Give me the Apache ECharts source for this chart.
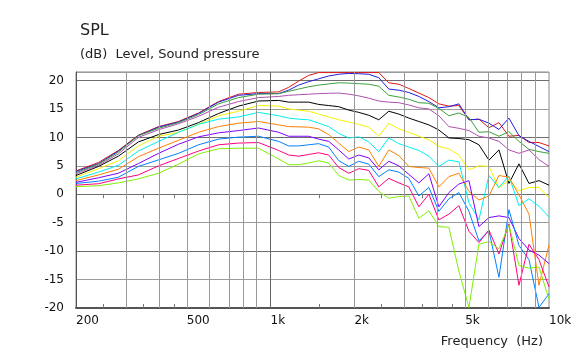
<!DOCTYPE html>
<html>
<head>
<meta charset="utf-8">
<script src="https://cdn.jsdelivr.net/npm/echarts@6/dist/echarts.min.js"></script>
<style>
html, body { margin: 0; padding: 0; background: #fff; }
#spl-chart { width: 578px; height: 351px; }
</style>
</head>
<body>
<div id="spl-chart"></div>
<script>
// frequency points (Hz), shared by all curves
var freqs = [200, 241, 284, 335, 396, 467, 551, 650, 767, 905,
	1069, 1161, 1261, 1370, 1488, 1617, 1757, 1909, 2073, 2252,
	2447, 2658, 2888, 3137, 3408, 3702, 4022, 4369, 4746, 5156,
	5601, 6085, 6610, 7180, 7800, 8474, 9205, 10000];

// SPL curves (dB), top to bottom
var splRed = [4.1, 5.6, 7.7, 10.4, 11.9, 12.8, 14.3, 16.3, 17.6, 17.9,
	18.0, 18.8, 19.9, 20.9, 21.4, 21.4, 21.4, 21.4, 21.4, 21.4,
	21.4, 19.6, 19.35, 18.6, 17.8, 17.0, 15.9, 15.5, 15.6, 13.1,
	13.2, 11.7, 12.6, 10.2, 10.35, 9.1, 9.1, 8.5];
var splBlue = [4.0, 5.4, 7.6, 10.3, 11.8, 12.7, 14.2, 16.2, 17.4, 17.7,
	17.7, 18.3, 19.2, 19.8, 20.3, 20.8, 21.1, 21.25, 21.2, 21.1,
	20.5, 18.5, 18.3, 17.9, 17.2, 16.3, 15.2, 15.4, 15.9, 13.1,
	13.2, 12.5, 11.4, 13.4, 10.3, 9.3, 8.4, 7.5];
var splGreen = [3.8, 5.3, 7.4, 10.3, 11.6, 12.6, 14.0, 15.9, 17.0, 17.6,
	17.7, 18.1, 18.5, 18.9, 19.2, 19.4, 19.6, 19.55, 19.45, 19.35,
	19.0, 17.4, 17.1, 16.7, 16.1, 16.0, 15.1, 13.8, 14.3, 13.5,
	10.9, 11.0, 10.2, 11.0, 9.3, 7.9, 7.5, 7.2];
var splMauve = [3.6, 5.1, 7.1, 10.0, 11.35, 12.4, 13.7, 15.3, 16.3, 17.0,
	17.2, 17.4, 17.5, 17.6, 17.7, 17.75, 17.8, 17.6, 17.3, 16.9,
	16.4, 16.2, 16.1, 15.7, 15.2, 15.0, 13.8, 11.9, 11.6, 11.2,
	10.2, 9.9, 9.3, 7.8, 7.2, 7.8, 6.1, 4.9];
var splBlack = [3.3, 4.9, 6.7, 9.2, 10.5, 11.3, 12.6, 14.2, 15.5, 16.4,
	16.5, 16.2, 16.2, 16.2, 15.8, 15.6, 15.4, 14.8, 14.4, 13.9,
	13.1, 14.6, 14.1, 13.4, 12.8, 12.2, 11.3, 9.9, 9.8, 9.6,
	8.7, 6.0, 7.8, 1.9, 5.35, 1.9, 2.4, 1.6];
var splYellow = [3.0, 4.5, 5.9, 8.5, 10.2, 10.9, 12.3, 13.8, 14.6, 15.6,
	15.5, 15.0, 14.8, 14.6, 14.1, 13.6, 13.1, 12.7, 12.3, 11.8,
	10.2, 12.5, 11.5, 10.9, 10.2, 9.6, 8.4, 8.0, 6.9, 4.3,
	5.0, 4.9, 1.1, 2.5, 0.6, 1.2, 1.2, -0.6];
var splCyan = [2.7, 3.9, 5.1, 7.6, 9.3, 10.9, 12.3, 13.2, 13.6, 14.4,
	13.8, 13.4, 13.2, 13.1, 12.5, 11.9, 10.7, 9.9, 10.1, 9.2,
	7.5, 9.9, 8.9, 8.3, 7.7, 6.7, 4.9, 6.0, 5.7, -1.5,
	-4.5, 3.3, 1.2, 3.2, -2.0, -0.8, -2.1, -4.0];
var splOrange = [2.4, 3.4, 4.4, 6.6, 8.1, 9.5, 10.9, 11.9, 12.5, 12.8,
	12.2, 11.9, 11.85, 11.8, 11.5, 10.5, 9.0, 7.5, 8.3, 7.8,
	4.9, 7.8, 6.8, 4.9, 4.7, 4.6, 1.3, 3.1, 3.7, 0.5,
	-1.0, -0.3, 3.3, 3.0, -0.1, -3.5, -16.0, -8.9];
var splViolet = [2.1, 2.9, 3.7, 5.4, 7.2, 8.8, 10.1, 10.8, 11.2, 11.65,
	10.9, 10.2, 10.2, 10.2, 9.7, 9.3, 7.8, 6.2, 6.9, 6.4,
	4.3, 5.8, 5.0, 3.5, 2.0, 3.6, -2.2, 0.3, 1.8, 2.4,
	-5.7, -4.1, -3.8, -4.1, -7.8, -9.8, -10.7, -12.2];
var splAzure = [1.9, 2.3, 3.0, 4.9, 6.05, 7.2, 8.7, 9.7, 10.05, 10.2,
	9.3, 8.5, 8.5, 8.7, 8.9, 8.3, 5.9, 4.9, 5.8, 5.3,
	3.1, 4.3, 3.9, 2.8, -0.3, 1.2, -3.0, -0.8, 0.3, -3.0,
	-8.2, -6.4, -14.6, -2.7, -9.0, -11.5, -19.9, -17.5];
var splPink = [1.6, 1.85, 2.7, 3.4, 5.0, 6.3, 7.6, 8.7, 9.0, 9.1,
	7.7, 6.9, 6.7, 7.0, 7.3, 6.9, 4.7, 3.7, 4.5, 4.2,
	1.3, 2.8, 2.0, 1.3, -2.2, 0.0, -4.5, -3.5, -2.0, -6.5,
	-8.5, -6.3, -10.5, -5.2, -16.0, -8.8, -11.5, -16.3];
var splLime = [1.35, 1.5, 2.0, 2.7, 3.7, 5.3, 7.1, 8.0, 8.1, 8.1,
	6.2, 5.2, 5.2, 5.5, 5.9, 5.5, 3.3, 2.5, 2.6, 2.5,
	0.5, -0.7, -0.4, -0.3, -4.2, -2.9, -5.7, -5.8, -13.5, -19.9,
	-8.8, -8.3, -9.6, -5.4, -12.5, -13.0, -12.8, -18.5];

// axis marks (Hz)
var labelFreqs = [200, 500, 1000, 2000, 5000, 10000];
var gridFreqs = [300, 400, 500, 600, 700, 800, 900, 1000, 2000, 3000, 4000, 5000, 6000, 7000, 8000, 9000];
var minorFreqs = [250, 350, 450, 1500, 2500, 3500, 4500];

var curves = [
	{ color: '#e01818', values: splRed },
	{ color: '#2020e0', values: splBlue },
	{ color: '#3ca03c', values: splGreen },
	{ color: '#b050b0', values: splMauve },
	{ color: '#000000', values: splBlack },
	{ color: '#f4f400', values: splYellow },
	{ color: '#00f0f0', values: splCyan },
	{ color: '#ff8000', values: splOrange },
	{ color: '#8000ff', values: splViolet },
	{ color: '#0080ff', values: splAzure },
	{ color: '#ff0080', values: splPink },
	{ color: '#80f000', values: splLime }
];

function lg(f) { return Math.log10(f); }

function freqLabel(v) {
	var f = Math.round(Math.pow(10, v));
	return f >= 1000 ? (f / 1000) + 'k' : String(f);
}

var myChart = echarts.init(document.getElementById('spl-chart'), null, { renderer: 'canvas' });
var font = 'DejaVu Sans';

var series = [{
	type: 'line',
	data: [],
	silent: true,
	z: 1,
	markLine: {
		silent: true,
		symbol: ['none', 'none'],
		label: { show: false },
		animation: false,
		data: gridFreqs.map(function(f) {
			return {
				xAxis: lg(f),
				lineStyle: { color: f === 1000 ? '#666' : '#999', width: 1, type: 'solid' }
			};
		})
	}
}];

curves.forEach(function(c) {
	series.push({
		type: 'line',
		data: freqs.map(function(f, i) { return [lg(f), c.values[i]]; }),
		showSymbol: false,
		symbol: 'none',
		z: 2,
		lineStyle: { color: c.color, width: 1 },
		itemStyle: { color: c.color }
	});
});

var option = {
	animation: false,
	backgroundColor: '#fff',
	textStyle: { fontFamily: font },
	title: [{
		text: 'SPL',
		left: 75, top: 18,
		textStyle: { fontFamily: font, fontSize: 16, fontWeight: 'normal', color: '#222' }
	}, {
		text: '(dB)  Level, Sound pressure',
		left: 75, top: 43,
		textStyle: { fontFamily: font, fontSize: 13, fontWeight: 'normal', color: '#222' }
	}, {
		text: 'Frequency  (Hz)',
		right: 30, top: 330,
		textStyle: { fontFamily: font, fontSize: 13, fontWeight: 'normal', color: '#222' }
	}],
	grid: {
		left: 76, right: 29, top: 72, bottom: 43,
		show: true,
		borderColor: '#888',
		borderWidth: 1,
		outerBoundsMode: 'none'
	},
	xAxis: [{
		type: 'value',
		min: lg(200),
		max: 4,
		axisLine: { show: true, onZero: false, lineStyle: { color: '#555', width: 2 } },
		splitLine: { show: false },
		axisTick: {
			show: true, inside: true, length: 4,
			customValues: minorFreqs.map(lg),
			lineStyle: { color: '#777' }
		},
		axisLabel: {
			customValues: labelFreqs.map(lg),
			formatter: freqLabel,
			align: 'left',
			margin: 7,
			fontFamily: font, fontSize: 12, color: '#111'
		}
	}, {
		type: 'value',
		position: 'top',
		min: lg(200),
		max: 4,
		axisLine: { show: false },
		splitLine: { show: false },
		axisTick: {
			show: true, inside: true, length: 4,
			customValues: minorFreqs.map(lg),
			lineStyle: { color: '#777' }
		},
		axisLabel: { show: false }
	}],
	yAxis: {
		type: 'value',
		min: -20,
		max: 21.5,
		interval: 5,
		axisLine: { show: true, lineStyle: { color: '#555', width: 1 } },
		axisTick: { show: false },
		axisLabel: {
			margin: 12,
			fontFamily: font, fontSize: 12, color: '#111',
			formatter: function(v) { return v % 5 === 0 ? String(v) : ''; }
		},
		splitLine: { show: true, lineStyle: { color: ['#6e6e6e', '#9c9c9c'], width: 1 } }
	},
	series: series
};

myChart.setOption(option);
</script>
</body>
</html>
